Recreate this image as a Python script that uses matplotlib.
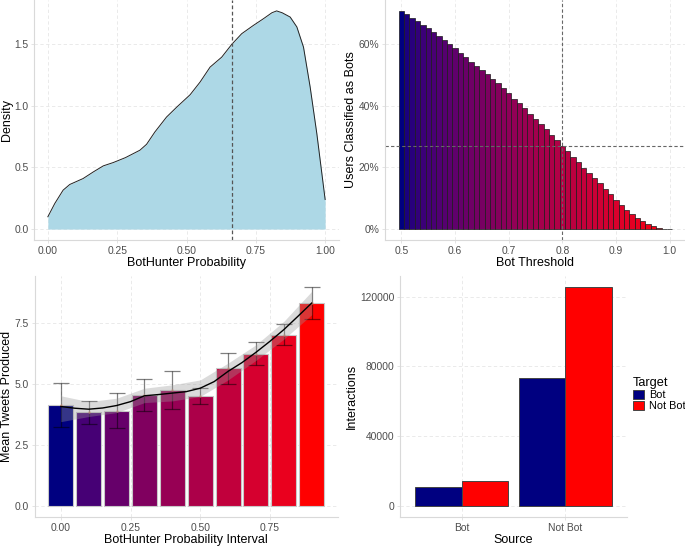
"""Four-panel BotHunter summary figure."""
import matplotlib
matplotlib.use("Agg")
import matplotlib.pyplot as plt
from matplotlib.patches import Patch
from matplotlib.ticker import FuncFormatter
import numpy as np

plt.rcParams["font.family"] = ["Liberation Sans", "DejaVu Sans"]

# --- panel A: density of BotHunter probability ---
dens_x = [0.0, 0.025, 0.055, 0.079, 0.127, 0.164, 0.20, 0.236, 0.28, 0.332,
          0.356, 0.386, 0.428, 0.465, 0.513, 0.549, 0.585, 0.627, 0.663, 0.699,
          0.741, 0.777, 0.808, 0.825, 0.845, 0.874, 0.898, 0.922, 0.946, 0.970, 1.0]
dens_y = [0.10, 0.208, 0.316, 0.362, 0.41, 0.464, 0.513, 0.54, 0.58, 0.64,
          0.688, 0.788, 0.909, 0.99, 1.09, 1.193, 1.314, 1.395, 1.498, 1.585,
          1.652, 1.706, 1.755, 1.77, 1.755, 1.72, 1.64, 1.476, 1.152, 0.775, 0.24]
dens_vline = 0.665

# --- panel B: share classified as bot per threshold ---
thresholds = [round(0.50 + 0.01 * i, 2) for i in range(51)]
pct_bots = [70.7, 69.6, 68.5, 67.3, 66.2, 65.1, 63.9, 62.6, 61.3, 60.0,
            58.6, 57.2, 55.8, 54.3, 53.0, 51.6, 50.2, 48.6, 47.2, 45.6,
            44.0, 42.2, 40.7, 39.1, 37.4, 35.7, 33.9, 32.4, 30.6, 28.9,
            27.0, 25.3, 23.5, 21.8, 19.9, 18.3, 16.4, 14.8, 12.9, 11.2,
            9.5, 7.8, 6.2, 5.0, 3.6, 2.5, 1.6, 0.9, 0.3, 0.1, 0.02]
thr_vline = 0.8
thr_hline = 26.9

# --- panel C: mean tweets per probability interval ---
intervals = [0.0, 0.1, 0.2, 0.3, 0.4, 0.5, 0.6, 0.7, 0.8, 0.9]
mean_tweets = [4.15, 3.85, 3.91, 4.56, 4.75, 4.50, 5.64, 6.24, 7.03, 8.33]
err_hi = [5.06, 4.31, 4.63, 5.21, 5.52, 4.82, 6.27, 6.71, 7.46, 8.98]
err_lo = [3.23, 3.35, 3.19, 3.89, 3.96, 4.17, 5.00, 5.78, 6.61, 7.66]
smooth_x = [0.0, 0.05, 0.1, 0.15, 0.2, 0.25, 0.3, 0.35, 0.4, 0.45,
            0.5, 0.55, 0.6, 0.65, 0.7, 0.75, 0.8, 0.85, 0.9]
smooth_y = [4.08, 4.01, 3.97, 4.02, 4.12, 4.28, 4.52, 4.57, 4.63, 4.69,
            4.83, 5.10, 5.52, 5.88, 6.30, 6.75, 7.23, 7.77, 8.32]
band_x = [0.0, 0.1, 0.2, 0.3, 0.4, 0.5, 0.6, 0.7, 0.8, 0.9]
band_hi = [4.52, 4.28, 4.42, 4.83, 4.97, 5.17, 5.86, 6.61, 7.57, 8.80]
band_lo = [3.46, 3.67, 3.83, 4.24, 4.31, 4.49, 5.17, 5.97, 6.84, 7.84]

# --- panel D: interactions by source / target ---
sources = ["Bot", "Not Bot"]
targets = ["Bot", "Not Bot"]
interactions = {"Bot": [10700, 73180], "Not Bot": [14330, 125540]}

W, H = 685, 547
GRID = dict(color="#e6e6e6", linestyle=(0, (4, 3)), linewidth=0.6)
TICK_FS, LAB_FS = 7.4, 9


def srgb_to_lab(rgb):
    c = np.asarray(rgb, float)
    c = np.where(c > 0.04045, ((c + 0.055) / 1.055) ** 2.4, c / 12.92)
    m = np.array([[0.4124, 0.3576, 0.1805],
                  [0.2126, 0.7152, 0.0722],
                  [0.0193, 0.1192, 0.9505]])
    xyz = m @ c / np.array([0.95047, 1.0, 1.08883])
    f = np.where(xyz > 0.008856, np.cbrt(xyz), 7.787 * xyz + 16 / 116)
    return np.array([116 * f[1] - 16, 500 * (f[0] - f[1]), 200 * (f[1] - f[2])])


def lab_to_srgb(lab):
    L, a, b = lab
    fy = (L + 16) / 116
    f = np.array([fy + a / 500, fy, fy - b / 200])
    xyz = np.where(f ** 3 > 0.008856, f ** 3, (f - 16 / 116) / 7.787)
    xyz = xyz * np.array([0.95047, 1.0, 1.08883])
    m = np.array([[3.2406, -1.5372, -0.4986],
                  [-0.9689, 1.8758, 0.0415],
                  [0.0557, -0.2040, 1.0570]])
    c = m @ xyz
    c = np.where(c > 0.0031308, 1.055 * np.clip(c, 0, None) ** (1 / 2.4) - 0.055, 12.92 * c)
    return tuple(np.clip(c, 0, 1))


def gradient(values, low="#000080", high="#FF0000"):
    lo = srgb_to_lab(matplotlib.colors.to_rgb(low))
    hi = srgb_to_lab(matplotlib.colors.to_rgb(high))
    v = np.asarray(values, float)
    t = (v - v.min()) / (v.max() - v.min())
    return [lab_to_srgb(lo + (hi - lo) * ti) for ti in t]


def panel(l, r, t, b, ylab_x):
    ax = fig.add_axes([l / W, 1 - b / H, (r - l) / W, (b - t) / H])
    for s in ("top", "right"):
        ax.spines[s].set_visible(False)
    for s in ("left", "bottom"):
        ax.spines[s].set_color("#d9d9d9")
        ax.spines[s].set_linewidth(0.8)
    ax.tick_params(length=2, width=0.5, color="#d9d9d9", labelsize=TICK_FS,
                   labelcolor="#4d4d4d", pad=2)
    ax.grid(True, **GRID)
    ax.set_axisbelow(True)
    # y-label centre placed at a pixel column of the figure
    ax.yaxis.set_label_coords((ylab_x - l) / (r - l), 0.5)
    return ax


fig = plt.figure(figsize=(W / 100, H / 100), dpi=100)

# A: density
ax = panel(34, 339, 0, 240, 7)
ax.fill_between(dens_x, 0, dens_y, color="#ADD8E6", linewidth=0)
ax.plot(dens_x, dens_y, color="#222222", linewidth=0.7)
ax.axvline(dens_vline, color="#555555", linestyle=(0, (3, 2)), linewidth=0.9)
ax.set_xlim(-0.05, 1.05)
ax.set_ylim(-0.0885, 1.8585)
ax.set_xticks([0, 0.25, 0.5, 0.75, 1.0])
ax.set_xticklabels(["0.00", "0.25", "0.50", "0.75", "1.00"])
ax.set_yticks([0, 0.5, 1.0, 1.5])
ax.set_yticklabels(["0.0", "0.5", "1.0", "1.5"])
ax.set_xlabel("BotHunter Probability", fontsize=LAB_FS, labelpad=1)
ax.set_ylabel("Density", fontsize=LAB_FS, va="center")

# B: threshold bars
ax = panel(385, 686, 0, 240, 351)
ax.bar(thresholds, pct_bots, width=0.01, color=gradient(thresholds),
       edgecolor="#1a1a1a", linewidth=0.5)
ax.axvline(thr_vline, color="#666666", linestyle=(0, (3, 2)), linewidth=0.8)
ax.axhline(thr_hline, color="#666666", linestyle=(0, (3, 2)), linewidth=0.8)
ax.set_xlim(0.4695, 1.0305)
ax.set_ylim(-3.55, 74.25)
ax.set_xticks([0.5, 0.6, 0.7, 0.8, 0.9, 1.0])
ax.set_yticks([0, 20, 40, 60])
ax.yaxis.set_major_formatter(FuncFormatter(lambda v, _: f"{v:.0f}%"))
ax.set_xlabel("Bot Threshold", fontsize=LAB_FS, labelpad=1)
ax.set_ylabel("Users Classified as Bots", fontsize=LAB_FS, va="center")

# C: mean tweets per interval
ax = panel(34.5, 338, 276, 517, 7)
ax.bar(intervals, mean_tweets, width=0.09, color=gradient(intervals),
       edgecolor="#c8c8c8", linewidth=0.8, zorder=2)
ax.errorbar(intervals, mean_tweets,
            yerr=[np.subtract(mean_tweets, err_lo), np.subtract(err_hi, mean_tweets)],
            fmt="none", ecolor=(0, 0, 0, 0.5), elinewidth=0.9, capsize=5.5,
            capthick=0.9, zorder=3)
ax.scatter(intervals, mean_tweets, s=3, color="#e08a6a", alpha=0.7, zorder=3,
           linewidths=0)
ax.fill_between(band_x, band_lo, band_hi, color="#999999", alpha=0.35,
                linewidth=0, zorder=4)
ax.plot(smooth_x, smooth_y, color="black", linewidth=1.0, zorder=5)
ax.set_xlim(-0.0945, 0.9945)
ax.set_ylim(-0.449, 9.43)
ax.set_xticks([0, 0.25, 0.5, 0.75])
ax.set_xticklabels(["0.00", "0.25", "0.50", "0.75"])
ax.set_yticks([0, 2.5, 5.0, 7.5])
ax.set_yticklabels(["0.0", "2.5", "5.0", "7.5"])
ax.set_xlabel("BotHunter Probability Interval", fontsize=LAB_FS, labelpad=1)
ax.set_ylabel("Mean Tweets Produced", fontsize=LAB_FS, va="center")

# D: interactions, dodged bars
ax = panel(400, 627, 276, 517, 352)
pos = np.arange(1, len(sources) + 1)
tcolors = {"Bot": "#000080", "Not Bot": "#FF0000"}
for k, tgt in enumerate(targets):
    ax.bar(pos - 0.225 + 0.45 * k, interactions[tgt], width=0.45,
           color=tcolors[tgt], edgecolor="#444444", linewidth=0.7, zorder=2)
ax.set_xlim(0.4, 2.6)
ax.set_ylim(-6277, 131817)
ax.set_xticks(pos)
ax.set_xticklabels(sources)
ax.set_yticks([0, 40000, 80000, 120000])
ax.set_yticklabels(["0", "40000", "80000", "120000"])
ax.set_xlabel("Source", fontsize=LAB_FS, labelpad=1)
ax.set_ylabel("Interactions", fontsize=LAB_FS, va="center")

handles = [Patch(facecolor=tcolors[t], edgecolor="#444444", linewidth=0.7, label=t)
           for t in targets]
fig.legend(handles=handles, title="Target", loc="upper left",
           bbox_to_anchor=(633 / W, 1 - 377 / H), frameon=False,
           fontsize=7.8, title_fontsize=9.2, alignment="left",
           handlelength=1.0, handleheight=1.0, handletextpad=0.5,
           labelspacing=0.05, borderpad=0, borderaxespad=0)

fig.savefig("out.png", dpi=100)
